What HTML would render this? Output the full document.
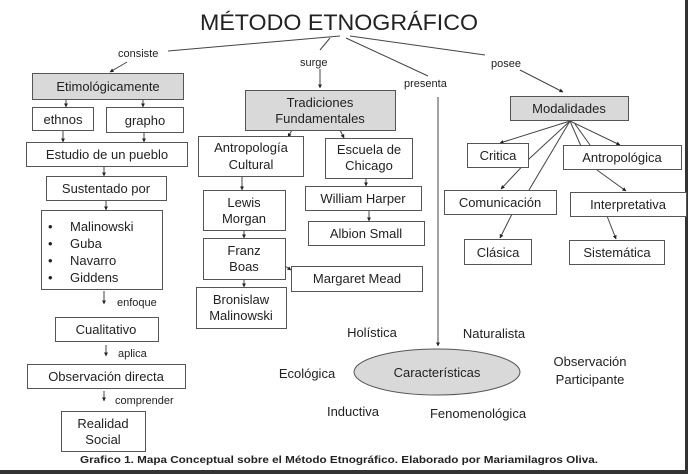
<!DOCTYPE html>
<html><head><meta charset="utf-8"><style>
html,body{margin:0;padding:0;background:#fff}
svg{display:block}
text{font-family:"Liberation Sans",sans-serif;fill:#222}
</style></head><body>
<svg width="688" height="474" viewBox="0 0 688 474" xmlns="http://www.w3.org/2000/svg">
<defs><marker id="a" viewBox="0 0 10 10" refX="9" refY="5" markerWidth="4" markerHeight="4" orient="auto"><path d="M0,0L10,5L0,10z" fill="#222"/></marker></defs>
<rect x="0" y="0" width="688" height="474" fill="#fff"/>
<rect x="685" y="0" width="3" height="474" fill="#333"/>
<rect x="0" y="470" width="688" height="4" fill="#333"/>
<text x="339" y="30" font-size="22" text-anchor="middle" textLength="278" lengthAdjust="spacingAndGlyphs">MÉTODO ETNOGRÁFICO</text>
<g stroke="#444" stroke-width="1" fill="none">
<line x1="340" y1="36" x2="168" y2="51"/>
<line x1="330" y1="38" x2="320" y2="50"/>
<line x1="346" y1="38" x2="428" y2="76"/>
<line x1="350" y1="36" x2="485" y2="55"/>
<line x1="127" y1="62" x2="110" y2="72" marker-end="url(#a)"/>
<line x1="320" y1="69" x2="320" y2="88" marker-end="url(#a)"/>
<line x1="520" y1="70" x2="563" y2="92" marker-end="url(#a)"/>
<line x1="438" y1="97" x2="438" y2="346" marker-end="url(#a)"/>
<line x1="66" y1="99" x2="66" y2="107" marker-end="url(#a)"/>
<line x1="143" y1="99" x2="143" y2="107" marker-end="url(#a)"/>
<line x1="63" y1="130" x2="63" y2="142" marker-end="url(#a)"/>
<line x1="144" y1="132" x2="144" y2="142" marker-end="url(#a)"/>
<line x1="104" y1="166" x2="104" y2="176" marker-end="url(#a)"/>
<line x1="106" y1="200" x2="106" y2="210" marker-end="url(#a)"/>
<line x1="104" y1="291" x2="104" y2="304" marker-end="url(#a)"/>
<line x1="106" y1="345" x2="106" y2="356" marker-end="url(#a)"/>
<line x1="104" y1="391" x2="104" y2="401" marker-end="url(#a)"/>
<line x1="292" y1="130" x2="288" y2="137" marker-end="url(#a)"/>
<line x1="340" y1="130" x2="344" y2="138" marker-end="url(#a)"/>
<line x1="242" y1="176" x2="242" y2="190" marker-end="url(#a)"/>
<line x1="366" y1="178" x2="366" y2="186" marker-end="url(#a)"/>
<line x1="369" y1="210" x2="369" y2="221" marker-end="url(#a)"/>
<line x1="244" y1="230" x2="244" y2="238" marker-end="url(#a)"/>
<line x1="244" y1="279" x2="244" y2="287" marker-end="url(#a)"/>
<line x1="276" y1="260" x2="291" y2="270" marker-end="url(#a)"/>
<line x1="570" y1="121" x2="500" y2="143" marker-end="url(#a)"/>
<line x1="570" y1="121" x2="620" y2="145" marker-end="url(#a)"/>
<line x1="570" y1="121" x2="530" y2="158"/>
<line x1="530" y1="158" x2="501" y2="189" marker-end="url(#a)"/>
<line x1="570" y1="121" x2="529" y2="190"/>
<line x1="570" y1="121" x2="591" y2="169"/>
<line x1="575" y1="124" x2="590" y2="145"/>
<line x1="597" y1="170" x2="626" y2="191" marker-end="url(#a)"/>
<line x1="512" y1="214" x2="500" y2="238" marker-end="url(#a)"/>
<line x1="607" y1="216" x2="616" y2="239" marker-end="url(#a)"/>
</g>
<g font-size="11">
<text x="118" y="57">consiste</text>
<text x="300" y="66">surge</text>
<text x="404" y="87">presenta</text>
<text x="491" y="67">posee</text>
<text x="117" y="306">enfoque</text>
<text x="118" y="357">aplica</text>
<text x="115" y="404">comprender</text>
</g>
<g stroke="#555" stroke-width="1">
<rect x="32.5" y="73.5" width="151" height="26" fill="#d9d9d9"/>
<rect x="245.5" y="90.5" width="150" height="40" fill="#d9d9d9"/>
<rect x="510.5" y="96.5" width="118" height="24" fill="#d9d9d9"/>
<g fill="#fff">
<rect x="32.5" y="107.5" width="61" height="23"/>
<rect x="106.5" y="107.5" width="77" height="25"/>
<rect x="26.5" y="142.5" width="161" height="24"/>
<rect x="46.5" y="176.5" width="120" height="24"/>
<rect x="41.5" y="210.5" width="121" height="79"/>
<rect x="55.5" y="317.5" width="103" height="24"/>
<rect x="27.5" y="364.5" width="158" height="24"/>
<rect x="61.5" y="411.5" width="84" height="40"/>
<rect x="198.5" y="136.5" width="105" height="40"/>
<rect x="325.5" y="138.5" width="87" height="40"/>
<rect x="305.5" y="186.5" width="116" height="24"/>
<rect x="308.5" y="221.5" width="116" height="24"/>
<rect x="203.5" y="190.5" width="82" height="40"/>
<rect x="203.5" y="238.5" width="82" height="41"/>
<rect x="291.5" y="266.5" width="131" height="25"/>
<rect x="196.5" y="287.5" width="90" height="41"/>
<rect x="467.5" y="143.5" width="61" height="24"/>
<rect x="563.5" y="145.5" width="118" height="24"/>
<rect x="444.5" y="190.5" width="112" height="24"/>
<rect x="570.5" y="192.5" width="116" height="24"/>
<rect x="464.5" y="239.5" width="67" height="25"/>
<rect x="569.5" y="240.5" width="95" height="24"/>
</g>
<ellipse cx="437" cy="372" rx="83" ry="23" fill="#d9d9d9"/>
</g>
<g font-size="13" text-anchor="middle">
<text x="108" y="91">Etimológicamente</text>
<text x="320" y="107">Tradiciones</text>
<text x="320" y="123">Fundamentales</text>
<text x="569" y="113">Modalidades</text>
<text x="63" y="124">ethnos</text>
<text x="145" y="125">grapho</text>
<text x="107" y="159">Estudio de un pueblo</text>
<text x="106" y="193">Sustentado por</text>
<text x="106" y="334">Cualitativo</text>
<text x="106" y="381">Observación directa</text>
<text x="103" y="428">Realidad</text>
<text x="103" y="444">Social</text>
<text x="251" y="152">Antropología</text>
<text x="251" y="169">Cultural</text>
<text x="369" y="154">Escuela de</text>
<text x="369" y="170">Chicago</text>
<text x="363" y="203">William Harper</text>
<text x="366" y="238">Albion Small</text>
<text x="244" y="207">Lewis</text>
<text x="244" y="223">Morgan</text>
<text x="244" y="255">Franz</text>
<text x="244" y="271">Boas</text>
<text x="357" y="283">Margaret Mead</text>
<text x="241" y="304">Bronislaw</text>
<text x="241" y="320">Malinowski</text>
<text x="498" y="160">Critica</text>
<text x="622" y="162">Antropológica</text>
<text x="500" y="207">Comunicación</text>
<text x="628" y="209">Interpretativa</text>
<text x="498" y="257">Clásica</text>
<text x="617" y="257">Sistemática</text>
<text x="437" y="377">Características</text>
<text x="372" y="337">Holística</text>
<text x="494" y="338">Naturalista</text>
<text x="307" y="378">Ecológica</text>
<text x="590" y="366">Observación</text>
<text x="590" y="384">Participante</text>
<text x="353" y="416">Inductiva</text>
<text x="478" y="418">Fenomenológica</text>
</g>
<g font-size="13">
<text x="48" y="231">•</text><text x="70" y="231">Malinowski</text>
<text x="48" y="248">•</text><text x="70" y="248">Guba</text>
<text x="48" y="265">•</text><text x="70" y="265">Navarro</text>
<text x="48" y="282">•</text><text x="70" y="282">Giddens</text>
</g>
<text x="80" y="463" font-size="10" font-weight="bold" textLength="518" lengthAdjust="spacingAndGlyphs">Grafico 1. Mapa Conceptual sobre el Método Etnográfico.  Elaborado por Mariamilagros Oliva.</text>
</svg>
</body></html>
